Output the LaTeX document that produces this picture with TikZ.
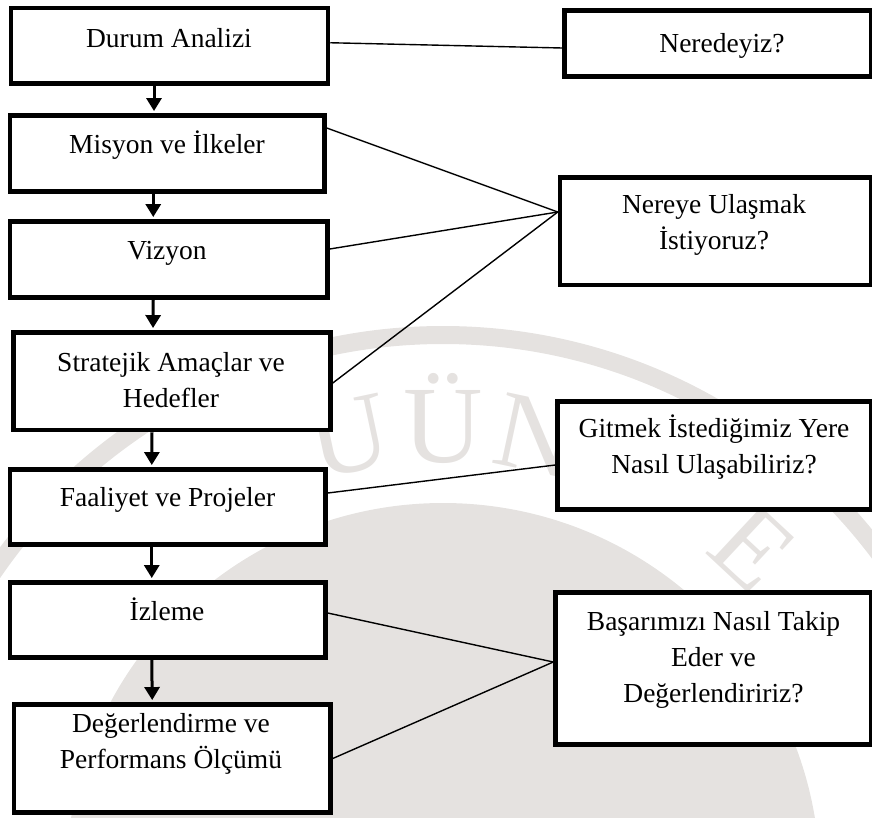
\documentclass[tikz,border=0pt]{standalone}
\usepackage{fontspec}
\setmainfont{Liberation Serif}
\usetikzlibrary{arrows.meta}
\definecolor{seal}{RGB}{229,226,224}
\newcommand{\lineup}{\rule{0pt}{26pt}}
\begin{document}
\begin{tikzpicture}[x=1pt,y=-1pt,
  stepbox/.style={draw, line width=4.5pt, fill=white, inner sep=0pt},
  lbl/.style={anchor=north, inner sep=0pt, align=center,
              font=\fontsize{27.5}{36}\selectfont},
  link/.style={line width=1.4pt},
  flow/.style={line width=3pt, -{Triangle[width=15pt,length=13pt]}, shorten >=2.2pt},
  sealtext/.style={text=seal, anchor=base, inner sep=0pt,
                   font=\fontsize{110}{110}\selectfont}]

\useasboundingbox (0,0) rectangle (872,817);

% faint seal in the background
\begin{scope}
  \clip (0,0) rectangle (872,817);
  \fill[seal] (443,880) circle[radius=377];
  \draw[seal, line width=18pt] (443,880) circle[radius=545];
  \node[sealtext, rotate=12]  (sealU) at (356.1,471.1) {U};
  \node[sealtext]             (sealUe) at (443,462) {Ü};
  \node[sealtext, rotate=-12] (sealN) at (528.5,470.8) {N};
  \node[sealtext, rotate=-43] (sealE) at (728.1,574.3) {E};
\end{scope}

% left column: planning steps
\node[stepbox, minimum width=317,   minimum height=75.5] (b1) at (169.5,45.75) {};
\node[stepbox, minimum width=314.5, minimum height=76]   (b2) at (167.25,153.5) {};
\node[stepbox, minimum width=317.5, minimum height=76]   (b3) at (168.75,259.5) {};
\node[stepbox, minimum width=317,   minimum height=97.5] (b4) at (172,381.25) {};
\node[stepbox, minimum width=315.5, minimum height=75]   (b5) at (167.75,507) {};
\node[stepbox, minimum width=315.5, minimum height=75]   (b6) at (167.75,620) {};
\node[stepbox, minimum width=316.5, minimum height=108]  (b7) at (172.25,758.5) {};

\node[lbl] (t1) at (169,21)  {\lineup Durum Analizi};
\node[lbl] (t2) at (167,127) {\lineup Misyon ve İlkeler};
\node[lbl] (t3) at (167,233) {\lineup Vizyon};
\node[lbl] (t4) at (171,345) {\lineup Stratejik Amaçlar ve\\Hedefler};
\node[lbl] (t5) at (167.5,480) {\lineup Faaliyet ve Projeler};
\node[lbl] (t6) at (167,594) {\lineup İzleme};
\node[lbl] (t7) at (171,706) {\lineup Değerlendirme ve\\Performans Ölçümü};

% right column: guiding questions
\node[stepbox, minimum width=306.5, minimum height=66]    (q1) at (717.75,43.5) {};
\node[stepbox, minimum width=311,   minimum height=107.5] (q2) at (715.5,231.25) {};
\node[stepbox, minimum width=313.5, minimum height=108]   (q3) at (714.25,455.5) {};
\node[stepbox, minimum width=315.5, minimum height=152]   (q4) at (713.25,668.5) {};

\node[lbl] (u1) at (722,26)   {\lineup Neredeyiz?};
\node[lbl] (u2) at (714,187)  {\lineup Nereye Ulaşmak\\İstiyoruz?};
\node[lbl] (u3) at (714,411)  {\lineup Gitmek İstediğimiz Yere\\Nasıl Ulaşabiliriz?};
\node[lbl] (u4) at (713.5,604) {\lineup Başarımızı Nasıl Takip\\Eder ve\\Değerlendiririz?};

% meeting points on the question boxes
\coordinate (m2) at ([yshift=19.25pt]q2.west);
\coordinate (m4) at ([yshift=6.5pt]q4.west);

% flow arrows
\draw[flow] ([xshift=-15.5pt]b1.south) -- ([xshift=-13.25pt]b2.north);
\draw[flow] ([xshift=-14pt]b2.south)   -- ([xshift=-15.5pt]b3.north);
\draw[flow] ([xshift=-15.5pt]b3.south) -- ([xshift=-19pt]b4.north);
\draw[flow] ([xshift=-20pt]b4.south)   -- ([xshift=-16pt]b5.north);
\draw[flow] ([xshift=-16pt]b5.south)   -- ([xshift=-16pt]b6.north);
\draw[flow] ([xshift=-16pt]b6.south)   -- ([xshift=-20pt]b7.north);

% links between steps and questions
\draw[link] ([yshift=3pt]b1.east)     -- ([yshift=-4.5pt]q1.west);
\draw[link] ([yshift=25.5pt]b2.east)  -- (m2);
\draw[link] ([yshift=10.5pt]b3.east)  -- (m2);
\draw[link] ([yshift=-1.75pt]b4.east) -- (m2);
\draw[link] ([yshift=14pt]b5.east)    -- ([yshift=-9.5pt]q3.west);
\draw[link] ([yshift=7pt]b6.east)     -- (m4);
\draw[link] (b7.east)                 -- (m4);
\end{tikzpicture}
\end{document}
